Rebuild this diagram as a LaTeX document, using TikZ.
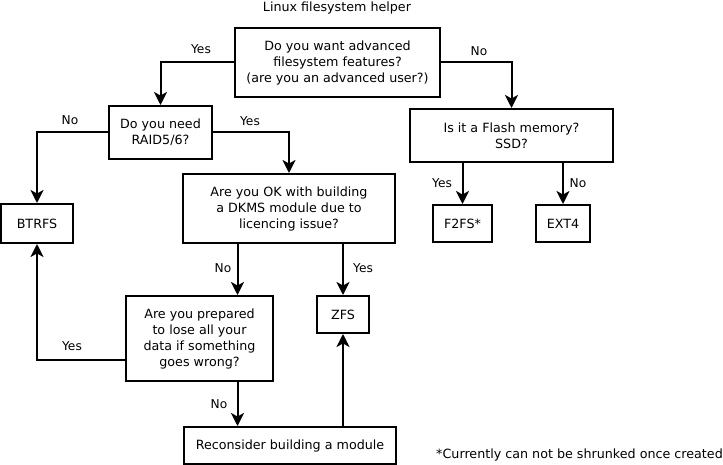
\documentclass[tikz,border=0pt]{standalone}
\usepackage{fontspec}
\setmainfont{DejaVu Sans}
\usetikzlibrary{arrows.meta, positioning}

\begin{document}
\begin{tikzpicture}[
  x=1pt, y=-1pt,
  every node/.style={font=\fontsize{12.7}{16}\selectfont, align=center},
  box/.style={draw, line width=2pt, inner sep=0pt},
  lbl/.style={font=\fontsize{12.2}{14}\selectfont, inner sep=0pt},
  arr/.style={draw, line width=2pt, -{Stealth[length=13pt,width=13pt,inset=3.5pt]}}
]
\useasboundingbox (0,0) rectangle (723,465);
% title
\node (title) at (337,8) {Linux filesystem helper};
% questions
\node[box, minimum width=205pt, minimum height=69pt] (adv) at (337.5,62.5)
  {Do you want advanced\\filesystem features?\\(are you an advanced user?)};
\node[box, minimum width=103pt, minimum height=53pt] (raid) at (160.5,132.5)
  {Do you need\\RAID5/6?};
\node[box, minimum width=203pt, minimum height=53pt] (flash) at (511.5,135.5)
  {Is it a Flash memory?\\SSD?};
\node[box, minimum width=212pt, minimum height=69pt] (dkms) at (289,208.5)
  {Are you OK with building\\a DKMS module due to\\licencing issue?};
\node[box, minimum width=147pt, minimum height=85pt] (lose) at (199.5,338.5)
  {Are you prepared\\to lose all your\\data if something\\goes wrong?};
% answers
\node[box, minimum width=72pt, minimum height=39pt] (btrfs) at (37,223.5) {BTRFS};
\node[box, minimum width=59pt, minimum height=37pt] (f2fs) at (462.5,223.5) {F2FS*};
\node[box, minimum width=54pt, minimum height=37pt] (ext4) at (563,223.5) {EXT4};
\node[box, minimum width=52pt, minimum height=37pt] (zfs) at (343,314.5) {ZFS};
\node[box, minimum width=212pt, minimum height=37pt] (recon) at (290,445.5)
  {Reconsider building a module};
\node[anchor=east, inner sep=0pt] (note) at (723,455)
  {*Currently can not be shrunked once created};

% connectors
\draw[arr] (adv.west) -| (raid.north);
\draw[arr] (adv.east) -| (flash.north);
\draw[arr] (raid.west) -| (btrfs.north);
\draw[arr] (raid.east) -| (dkms.north);
\draw[arr] (flash.south -| f2fs.north) -- (f2fs.north);
\draw[arr] (flash.south -| ext4.north) -- (ext4.north);
\draw[arr] (dkms.south -| lose.north east) ++(-36.5,0) coordinate (dk1) -- (dk1 |- lose.north);
\draw[arr] (dkms.south -| zfs.north) -- (zfs.north);
\draw[arr] (lose.south -| dk1) -- (dk1 |- recon.north);
\draw[arr] (lose.west |- 0,360) -| (btrfs.south);
\draw[arr] (recon.north -| zfs.south) -- (zfs.south);

% answer labels
\node[lbl] at (201,49) {Yes};
\node[lbl] at (479,51) {No};
\node[lbl] at (70,120) {No};
\node[lbl] at (250,121) {Yes};
\node[lbl] at (442,183) {Yes};
\node[lbl] at (578,183) {No};
\node[lbl] at (223,268) {No};
\node[lbl] at (363,268) {Yes};
\node[lbl] at (72,346) {Yes};
\node[lbl] at (219,404) {No};
\end{tikzpicture}
\end{document}
